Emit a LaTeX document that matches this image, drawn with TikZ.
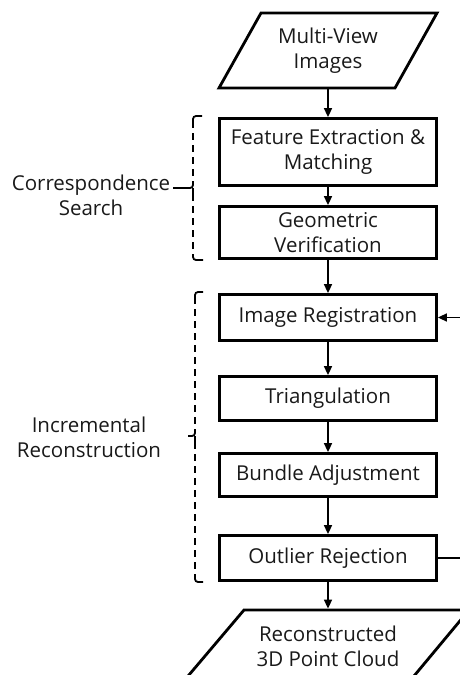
\documentclass[tikz,border=0pt]{standalone}
\usepackage{fontspec}
\setmainfont{Open Sans}
\usetikzlibrary{arrows.meta}
\begin{document}
\begin{tikzpicture}[x=1pt,y=-1pt,
  txt/.style={font=\fontsize{20.5}{25}\selectfont, align=center, text=black!90},
  procbox/.style={txt, draw, line width=2.8pt, minimum width=217pt, inner sep=0pt},
  iobox/.style={txt, minimum height=75pt, inner sep=0pt, outer sep=0pt},
  boxline/.style={line width=2.8pt, line join=miter},
  flow/.style={line width=1.6pt, -{Triangle[length=9pt,width=8pt]}},
  bracket/.style={line width=1.8pt, dash pattern=on 7pt off 5pt},
  bracktip/.style={line width=1.8pt, rounded corners=3pt},
  grp/.style={txt}
]
\useasboundingbox (0,0) rectangle (460,675);
\clip (0,0) rectangle (460,675);

% input parallelogram
\node[iobox] (in) at (328,50.5) {Multi-View\\Images};
\draw[boxline] ([xshift=-109pt]in.south) -- ([xshift=67pt]in.south) -- ([xshift=109pt]in.north) -- ([xshift=-67pt]in.north) -- cycle;

% process boxes
\node[procbox, minimum height=67pt] (fe) at (328,152) {Feature Extraction \&\\Matching};
\node[procbox, minimum height=52pt] (gv) at (328,232.5) {Geometric\\Verification};
\node[procbox, minimum height=46pt] (reg) at (328,317.5) {Image Registration};
\node[procbox, minimum height=44pt] (tri) at (328,398.5) {Triangulation};
\node[procbox, minimum height=43pt] (ba) at (328,475) {Bundle Adjustment};
\node[procbox, minimum height=45pt] (out) at (328,558) {Outlier Rejection};

% output parallelogram
\node[iobox, minimum height=72pt] (rec) at (328,646) {Reconstructed\\3D Point Cloud};
\draw[boxline] ([xshift=-84pt]rec.north) -- ([xshift=141pt]rec.north) -- ([xshift=81pt]rec.south) -- ([xshift=-145pt]rec.south) -- cycle;

% flow arrows
\draw[flow] (in.south) -- (fe.north);
\draw[flow] (fe.south) -- (gv.north);
\draw[flow] (gv.south) -- (reg.north);
\draw[flow] (reg.south) -- (tri.north);
\draw[flow] (tri.south) -- (ba.north);
\draw[flow] (ba.south) -- (out.north);
\draw[flow] (out.south) -- ([yshift=1.4pt]rec.north);

% feedback loop
\coordinate (loop) at (472,558);
\draw[flow] (out.east) -- (loop) |- (reg.east);

% group brackets and labels
\node[grp] (cs) at (91,195.5) {Correspondence\\Search};
\coordinate (cstip) at (173,188);
\draw[bracket] (193,121) -- (193,182);
\draw[bracket] (193,194) -- (193,255);
\draw[bracktip] (202,116) -- (193,116) -- (193,121);
\draw[bracktip] (193,182) -- (193,188) -- (cstip);
\draw[bracktip] (193,188) -- (193,194);
\draw[bracktip] (193,255) -- (193,260) -- (203,260);

\node[grp] (ir) at (89,437.5) {Incremental\\Reconstruction};
\coordinate (irtip) at (188,436);
\draw[bracket] (195,297) -- (195,430);
\draw[bracket] (195,442) -- (195,577);
\draw[bracktip] (203,292) -- (195,292) -- (195,297);
\draw[bracktip] (195,430) -- (195,436) -- (irtip);
\draw[bracktip] (195,436) -- (195,442);
\draw[bracktip] (195,577) -- (195,582) -- (203,582);
\end{tikzpicture}
\end{document}
